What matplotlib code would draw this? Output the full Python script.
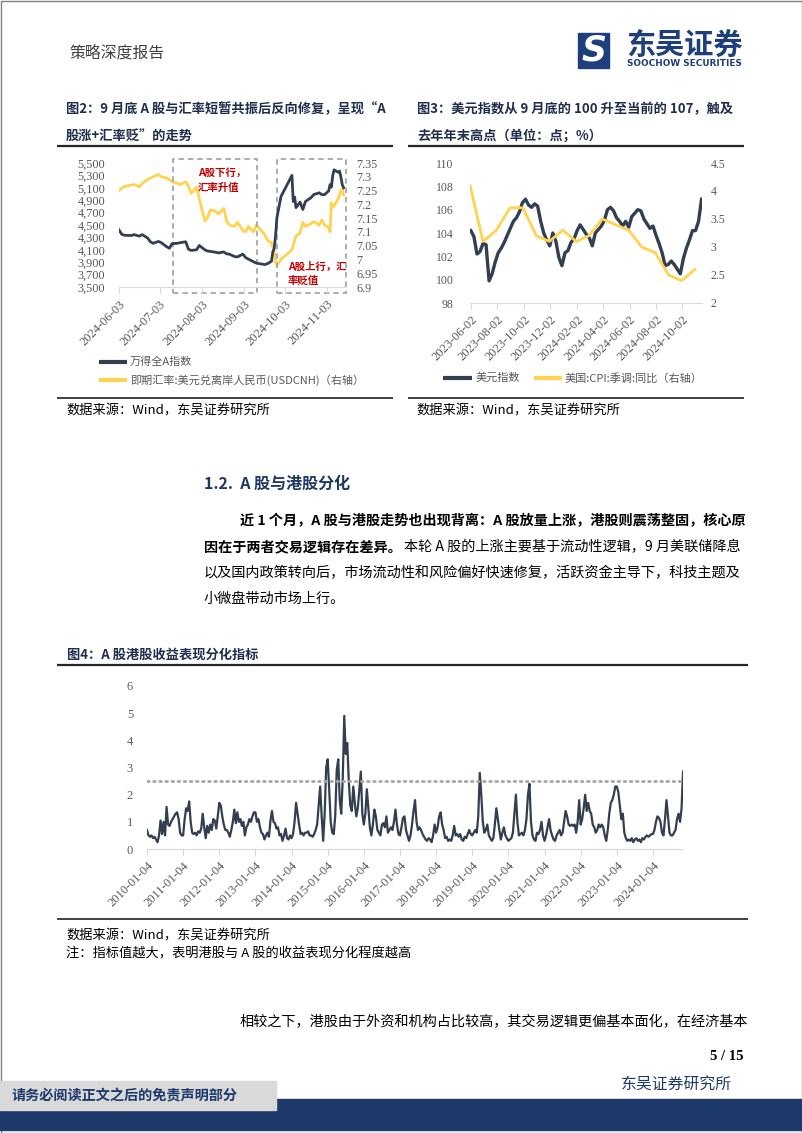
import numpy as np
import pandas as pd
import matplotlib
matplotlib.use('Agg')
import matplotlib.pyplot as plt
import matplotlib.dates as mdates
from matplotlib.patches import Rectangle
from matplotlib.ticker import FuncFormatter

W, H = 802, 1133
CJK = ['Noto Sans CJK SC', 'DejaVu Sans']
SERIF = ['Liberation Serif', 'DejaVu Serif']
NAVY = '#333F50'
YEL = '#FFD34F'
GREY = '#595959'
AXC = '#D9D9D9'
BLUE = '#1D3A6B'

# ---------------- Figure 2: A-share index vs USDCNH ----------------
f2_dates = ['06-03', '06-05', '06-07', '06-12', '06-14', '06-18', '06-20', '06-24', '06-26', '06-28',
            '07-02', '07-04', '07-08', '07-10', '07-12', '07-16', '07-18', '07-22', '07-24', '07-26', '07-30',
            '08-01', '08-05', '08-07', '08-09', '08-13', '08-15', '08-19', '08-21', '08-23', '08-27', '08-29',
            '09-02', '09-04', '09-06', '09-10', '09-12', '09-18', '09-20', '09-23', '09-24', '09-25', '09-26',
            '09-27', '09-30',
            '10-08', '10-09', '10-10', '10-11', '10-14', '10-16', '10-18', '10-22', '10-24', '10-28', '10-30',
            '11-01', '11-04', '11-05', '11-06', '11-07', '11-08', '11-11', '11-12', '11-13', '11-14', '11-15']
a_index = [4420, 4350, 4335, 4330, 4345, 4320, 4345, 4290, 4230, 4205,
           4235, 4215, 4150, 4125, 4200, 4205, 4215, 4230, 4110, 4090, 4100,
           4170, 4100, 4080, 4075, 4060, 4050, 4065, 4035, 4030, 3990, 3985,
           4030, 3975, 3950, 3905, 3885, 3862, 3875, 3915, 4070, 4120, 4330,
           4620, 4960,
           5300, 4880, 4950, 4780, 4870, 4750, 4880, 4940, 4990, 5020, 4990,
           4990, 5050, 5150, 5110, 5300, 5390, 5350, 5370, 5270, 5150, 5100]
usdcnh = [7.250, 7.258, 7.265, 7.270, 7.272, 7.264, 7.276, 7.290, 7.295, 7.300,
          7.308, 7.300, 7.296, 7.290, 7.282, 7.276, 7.272, 7.282, 7.266, 7.240, 7.262,
          7.220, 7.140, 7.150, 7.180, 7.175, 7.165, 7.185, 7.140, 7.125, 7.120, 7.135,
          7.105, 7.100, 7.120, 7.100, 7.125, 7.090, 7.070, 7.060, 7.045, 7.030, 6.990,
          6.980, 7.000,
          7.035, 7.050, 7.070, 7.085, 7.095, 7.135, 7.120, 7.130, 7.137, 7.125, 7.143,
          7.125, 7.115, 7.100, 7.205, 7.190, 7.195, 7.220, 7.235, 7.252, 7.255, 7.234]
f2_ticks = ['2024-06-03', '2024-07-03', '2024-08-03', '2024-09-03', '2024-10-03', '2024-11-03']

# ---------------- Figure 3: dollar index vs US CPI ----------------
dxy = [104.2, 103.7, 102.2, 102.4, 103.1, 103.0, 99.9, 100.5, 101.5, 102.3,
       102.7, 103.2, 103.8, 104.4, 105.0, 105.3, 105.8, 106.6, 106.9, 106.4,
       106.2, 106.5, 106.3, 105.0, 104.0, 103.4, 102.9, 104.0, 103.3, 101.9,
       101.2, 102.3, 102.5, 103.2, 103.5, 104.2, 104.7, 104.3, 103.9, 103.6,
       102.9, 104.0, 104.3, 104.6, 105.1, 106.0, 106.2, 105.9, 105.3, 105.0,
       104.6, 105.0, 104.5, 105.4, 105.7, 106.0, 105.9, 105.2, 104.8, 104.4,
       104.6, 103.8, 103.1, 102.3, 101.2, 101.3, 101.6, 101.3, 100.9, 100.5,
       101.8, 102.7, 103.4, 104.2, 104.2, 105.0, 106.9]
cpi = [4.1, 3.1, 3.3, 3.7, 3.7, 3.2, 3.1, 3.3, 3.1, 3.2, 3.5, 3.4, 3.3, 3.0, 2.9, 2.5, 2.4, 2.6]
f3_ticks = ['2023-06-02', '2023-08-02', '2023-10-02', '2023-12-02', '2024-02-02',
            '2024-04-02', '2024-06-02', '2024-08-02', '2024-10-02']

# ---------------- Figure 4: A/H divergence indicator (semi-monthly) ----------------
ah_vals = [
    0.7, 0.5, 0.45, 0.5, 0.4, 0.45, 0.35, 0.25, 0.5, 1.05, 0.55, 1.0, 0.5, 1.55, 0.9, 0.85, 1.0, 1.1, 1.2, 1.3, 1.35, 1.1, 0.6, 0.5,  # 2010
    0.5, 1.1, 1.5, 1.4, 1.75, 1.0, 0.6, 0.55, 0.6, 0.5, 0.65, 0.6, 0.75, 1.3, 0.8, 0.4, 0.85, 0.6, 0.9, 0.7, 1.1, 1.05, 0.75, 1.2,  # 2011
    1.7, 1.6, 1.2, 0.9, 0.7, 0.7, 0.6, 0.45, 0.7, 1.0, 1.45, 0.95, 1.35, 1.0, 1.1, 0.85, 1.0, 0.5, 0.8, 0.9, 1.1, 1.0, 1.2, 1.35,  # 2012
    1.35, 1.0, 1.1, 0.8, 0.6, 0.55, 0.35, 0.5, 0.6, 0.45, 1.05, 1.4, 1.0, 0.95, 0.75, 0.8, 0.5, 0.55, 0.3, 0.5, 0.75, 0.4, 0.35, 0.5,  # 2013
    0.4, 0.55, 1.0, 1.7, 1.3, 0.9, 0.55, 0.6, 0.5, 0.6, 0.6, 0.65, 0.5, 0.5, 0.45, 0.55, 0.7, 0.9, 1.6, 2.3, 1.2, 0.3, 1.3, 3.0,  # 2014
    3.3, 2.2, 1.0, 0.6, 0.55, 1.2, 2.9, 3.3, 1.8, 1.3, 2.6, 4.9, 3.5, 3.9, 2.5, 1.6, 1.4, 2.3, 1.7, 1.2, 1.5, 2.2, 2.85, 1.3,  # 2015
    0.9, 1.3, 2.2, 1.5, 0.8, 0.5, 0.9, 1.45, 1.2, 0.7, 0.6, 0.5, 0.9, 0.95, 0.8, 1.2, 0.6, 0.7, 0.8, 0.7, 1.0, 1.45, 0.9, 0.55,  # 2016
    0.5, 0.8, 1.15, 1.2, 0.7, 0.5, 0.3, 0.5, 0.9, 1.4, 1.8, 1.0, 0.7, 0.8, 0.7, 0.55, 0.45, 0.35, 0.3, 0.4, 0.35, 0.25, 0.5, 0.9,  # 2017
    0.6, 0.8, 1.2, 1.35, 0.9, 0.7, 0.4, 0.45, 0.3, 0.35, 0.3, 0.5, 0.85, 0.5, 0.55, 0.45, 0.55, 0.35, 0.3, 0.45, 0.4, 0.55, 0.7, 0.55,  # 2018
    0.5, 0.6, 0.7, 0.6, 1.2, 2.8, 2.0, 1.0, 0.6, 0.7, 0.9, 0.5, 0.4, 0.3, 0.4, 0.9, 1.5, 1.1, 0.7, 0.35, 0.6, 0.8, 0.5, 0.4,  # 2019
    0.3, 0.35, 0.4, 0.6, 1.3, 2.0, 1.0, 0.5, 0.55, 0.6, 0.5, 0.7, 1.1, 2.0, 2.4, 1.0, 0.5, 0.35, 0.3, 0.6, 0.55, 0.7, 1.0, 0.5,  # 2020
    0.3, 0.5, 0.8, 1.1, 0.7, 0.5, 0.35, 0.3, 0.5, 0.6, 0.7, 0.5, 0.6, 1.0, 1.4, 1.2, 0.9, 0.85, 0.9, 0.85, 0.9, 0.6, 1.0, 1.8,  # 2021
    0.9, 1.1, 1.5, 2.0, 1.4, 1.7, 1.4, 1.3, 0.9, 0.8, 0.6, 0.7, 0.9, 0.8, 0.9, 0.8, 0.5, 0.3, 0.7, 1.3, 1.7, 1.8, 2.0, 2.3,  # 2022
    2.3, 2.1, 1.6, 1.1, 1.3, 0.6, 0.4, 0.3, 0.35, 0.3, 0.4, 0.25, 0.35, 0.4, 0.3, 0.35, 0.25, 0.4, 0.35, 0.45, 0.5, 0.45, 0.5, 0.55,  # 2023
    0.55, 0.7, 1.0, 1.2, 1.15, 1.0, 0.6, 0.5, 1.1, 1.8, 1.2, 0.6, 0.5, 0.5, 0.6, 0.7, 1.1, 1.3, 1.0, 1.5, 2.85,  # 2024
]
ah_threshold = 2.5
ah_years = list(range(2010, 2025))

fig = plt.figure(figsize=(W / 100, H / 100), dpi=100)
fig.patch.set_facecolor('white')

page = fig.add_axes([0, 0, 1, 1])
page.set_xlim(0, W)
page.set_ylim(H, 0)
page.axis('off')


def txt(x, y, s, size, color='black', weight='normal', ha='left', family=CJK):
    return page.text(x, y, s, fontsize=size, color=color, fontweight=weight, ha=ha, va='center', family=family)


def hline(x0, x1, y, lw=1.2, color='#262626'):
    page.plot([x0, x1], [y, y], color=color, lw=lw, solid_capstyle='butt')


# page frame and header
page.add_patch(Rectangle((0.5, 0.5), W - 1, H - 1, fill=False, ec='#808080', lw=1))
txt(69, 53, '策略深度报告', 11.4, color='#404040')
page.add_patch(Rectangle((578, 33), 31, 35, color='#1F3F7C'))
page.text(593.5, 50.5, 'S', fontsize=25, color='white', fontweight='bold', style='italic',
          ha='center', va='center', family=['DejaVu Sans'])
txt(626, 45, '东吴证券', 21, color='#1F3F7C', weight='bold')
txt(627, 64, 'SOOCHOW SECURITIES', 6.4, color='#1F3F7C', weight='bold', family=['DejaVu Sans'])

# figure titles
TCOL = '#1F2D4D'
txt(66, 109, '图2：9 月底 A 股与汇率短暂共振后反向修复，呈现“A', 9.5, color=TCOL, weight='bold')
txt(66, 136, '股涨+汇率贬”的走势', 9.5, color=TCOL, weight='bold')
txt(417, 109, '图3：美元指数从 9 月底的 100 升至当前的 107，触及', 9.5, color=TCOL, weight='bold')
txt(417, 136, '去年年末高点（单位：点；%）', 9.5, color=TCOL, weight='bold')
hline(57, 393, 146, lw=1.6)
hline(408, 744, 146, lw=1.6)

# legends figure 2 / 3
page.plot([99, 127], [362, 362], color=NAVY, lw=3, solid_capstyle='butt')
txt(130, 362, '万得全A指数', 8, color=GREY)
page.plot([99, 127], [380, 380], color=YEL, lw=3, solid_capstyle='butt')
txt(130, 380, '即期汇率:美元兑离岸人民币(USDCNH)（右轴）', 8, color=GREY)
page.plot([443, 472], [378, 378], color=NAVY, lw=3, solid_capstyle='butt')
txt(476, 378, '美元指数', 8, color=GREY)
page.plot([534, 562], [378, 378], color=YEL, lw=3, solid_capstyle='butt')
txt(565, 378, '美国:CPI:季调:同比（右轴）', 8, color=GREY)

hline(57, 393, 398, lw=1.4, color='#404040')
hline(408, 744, 398, lw=1.4, color='#404040')
txt(66, 411, '数据来源：Wind，东吴证券研究所', 9.5)
txt(416, 411, '数据来源：Wind，东吴证券研究所', 9.5)

# section heading and paragraph
txt(204, 484, '1.2.  A 股与港股分化', 11.5, color='#1F3864', weight='bold')
txt(240, 521, '近 1 个月，A 股与港股走势也出现背离：A 股放量上涨，港股则震荡整固，核心原', 10.2, weight='bold')
b = txt(204, 547, '因在于两者交易逻辑存在差异。', 10.2, weight='bold')
fig.canvas.draw()
ext = b.get_window_extent(fig.canvas.get_renderer())
txt(ext.x1 + 2, 547, '本轮 A 股的上涨主要基于流动性逻辑，9 月美联储降息', 10.2)
txt(204, 573, '以及国内政策转向后，市场流动性和风险偏好快速修复，活跃资金主导下，科技主题及', 10.2)
txt(204, 599, '小微盘带动市场上行。', 10.2)

txt(67, 655, '图4：A 股港股收益表现分化指标', 9.5, color=TCOL, weight='bold')
hline(57, 748, 665, lw=1.6)
hline(57, 748, 919, lw=1.4, color='#404040')
txt(66, 936, '数据来源：Wind，东吴证券研究所', 9.5)
txt(66, 954, '注：指标值越大，表明港股与 A 股的收益表现分化程度越高', 9.5)

txt(240, 1022, '相较之下，港股由于外资和机构占比较高，其交易逻辑更偏基本面化，在经济基本', 10.2)
txt(744, 1057, '5 / 15', 10.5, weight='bold', ha='right', family=SERIF)
txt(621, 1085, '东吴证券研究所', 11.4, color=BLUE)
page.add_patch(Rectangle((0, 1099), W, 31, color=BLUE))
page.add_patch(Rectangle((0, 1081), 276, 29, color='#D9D9D9'))
txt(11, 1096, '请务必阅读正文之后的免责声明部分', 10.2, color=BLUE, weight='bold')


def style_axis(ax, fsize):
    for s in ax.spines.values():
        s.set_visible(False)
    ax.spines['bottom'].set_visible(True)
    ax.spines['bottom'].set_color(AXC)
    ax.tick_params(axis='x', colors=AXC, length=4, width=0.8, direction='out')
    ax.tick_params(axis='y', length=0)
    for lab in ax.get_xticklabels() + ax.get_yticklabels():
        lab.set_color(GREY)
        lab.set_family(SERIF)
        lab.set_fontsize(fsize)
    ax.patch.set_visible(False)


def rot_labels(ax, fsize):
    for lab in ax.get_xticklabels():
        lab.set_rotation(45)
        lab.set_ha('right')
        lab.set_rotation_mode('anchor')
        lab.set_color(GREY)
        lab.set_family(SERIF)
        lab.set_fontsize(fsize)


# ---------------- chart 2 ----------------
d2 = pd.to_datetime(['2024-' + d for d in f2_dates])
ax2 = fig.add_axes([119 / W, 1 - 287 / H, 226 / W, 124 / H])
ax2r = ax2.twinx()
ax2r.plot(d2, usdcnh, color=YEL, lw=2)
ax2.plot(d2, a_index, color=NAVY, lw=2)
ax2.set_zorder(ax2r.get_zorder() + 1)
ax2.set_xlim(pd.Timestamp('2024-06-03'), pd.Timestamp('2024-11-16'))
ax2.set_ylim(3500, 5500)
ax2.set_yticks(range(3500, 5501, 200))
ax2.yaxis.set_major_formatter(FuncFormatter(lambda v, p: f'{int(v):,}'))
ax2r.set_ylim(6.9, 7.35)
ax2r.set_yticks(np.arange(6.9, 7.351, 0.05))
ax2r.yaxis.set_major_formatter(FuncFormatter(lambda v, p: f'{round(v, 2):g}'))
ax2.set_xticks(pd.to_datetime(f2_ticks))
ax2.set_xticklabels(f2_ticks)
style_axis(ax2, 8.8)
style_axis(ax2r, 8.8)
ax2r.spines['bottom'].set_visible(False)
ax2.tick_params(axis='y', pad=10)
ax2r.tick_params(axis='y', pad=8)
rot_labels(ax2, 9)
ax2.tick_params(axis='x', pad=4)

box_kw = dict(fill=False, ec='#A6A6A6', lw=1.3, ls=(0, (3, 2.2)), clip_on=False)
for start, end in [('2024-07-13', '2024-09-12'), ('2024-09-27', '2024-11-17')]:
    x0 = mdates.date2num(pd.Timestamp(start))
    x1 = mdates.date2num(pd.Timestamp(end))
    ax2.add_patch(Rectangle((x0, 3410), x1 - x0, 5570 - 3410, **box_kw))
RED = '#C00000'
for x, y, s in [(198, 173, 'A股下行，'), (198, 188, '汇率升值'), (288, 267, 'A股上行，汇'), (288, 281, '率贬值')]:
    ax2.text(x, y, s, transform=page.transData, fontsize=7.5, color=RED, fontweight='bold',
             va='center', ha='left', family=CJK)

# ---------------- chart 3 ----------------
d_dxy = pd.date_range('2023-06-02', periods=len(dxy), freq='7D')
d_cpi = pd.date_range('2023-05-31', periods=len(cpi), freq='ME')
ax3 = fig.add_axes([470 / W, 1 - 303 / H, 232 / W, 140 / H])
ax3r = ax3.twinx()
ax3.plot(d_dxy, dxy, color=NAVY, lw=2.4)
ax3r.plot(d_cpi, cpi, color=YEL, lw=2)
ax3.set_xlim(pd.Timestamp('2023-05-31'), pd.Timestamp('2024-11-16'))
ax3.set_ylim(98, 110)
ax3.set_yticks(range(98, 111, 2))
ax3r.set_ylim(2, 4.5)
ax3r.set_yticks(np.arange(2, 4.51, 0.5))
ax3r.yaxis.set_major_formatter(FuncFormatter(lambda v, p: f'{v:g}'))
ax3.set_xticks(pd.to_datetime(f3_ticks))
ax3.set_xticklabels(f3_ticks)
style_axis(ax3, 8.5)
style_axis(ax3r, 8.5)
ax3r.spines['bottom'].set_visible(False)
ax3.tick_params(axis='y', pad=12)
ax3r.tick_params(axis='y', pad=6)
rot_labels(ax3, 9)

# ---------------- chart 4 ----------------
ah_t = 2010 + 3 / 365 + np.arange(len(ah_vals)) / 24
ax4 = fig.add_axes([147 / W, 1 - 849 / H, 536 / W, 163 / H])
ax4.plot(ah_t, ah_vals, color=NAVY, lw=1.6)
ax4.plot([ah_t[0], 2024.84], [ah_threshold, ah_threshold], color='#A6A6A6', lw=2,
         ls=(0, (0.6, 1.6)), dash_capstyle='round')
ax4.set_xlim(2010 + 3 / 365, 2024.84)
ax4.set_ylim(0, 6)
ax4.set_yticks(range(0, 7))
ax4.set_xticks([y + 3 / 365 for y in ah_years])
ax4.set_xticklabels([f'{y}-01-04' for y in ah_years])
style_axis(ax4, 9)
ax4.tick_params(axis='y', pad=10)
rot_labels(ax4, 9)

fig.savefig('out.png', dpi=100, facecolor='white')
